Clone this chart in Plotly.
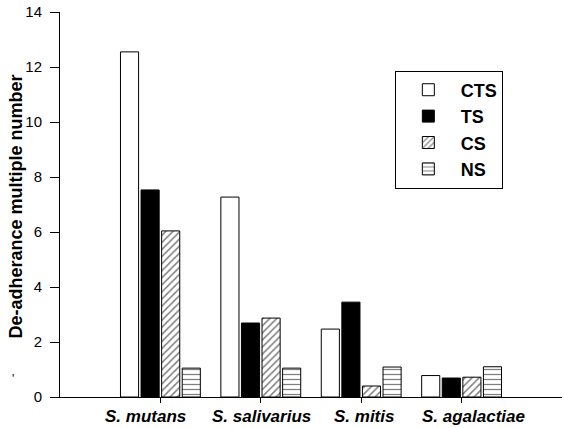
import plotly.graph_objects as go

categories = ["S. mutans", "S. salivarius", "S. mitis", "S. agalactiae"]
cts = [12.55, 7.27, 2.47, 0.78]
ts = [7.53, 2.69, 3.45, 0.69]
cs = [6.04, 2.87, 0.40, 0.72]
ns = [1.05, 1.05, 1.09, 1.10]
y_title = "De-adherance multiple number"
# small horizontal offsets of the category labels as typeset in the original
label_shift = [-15, 1, 3, 12]

series = [
    ("CTS", cts, dict(color="white", line=dict(color="black", width=1))),
    ("TS", ts, dict(color="black", line=dict(color="black", width=1))),
    ("CS", cs, dict(color="white", line=dict(color="black", width=1),
                    pattern=dict(shape="/", fgcolor="black", bgcolor="white", size=5, solidity=0.3))),
    ("NS", ns, dict(color="white", line=dict(color="black", width=1),
                    pattern=dict(shape="-", fgcolor="black", bgcolor="white", size=5, solidity=0.25))),
]

fig = go.Figure()
for i, (name, vals, marker) in enumerate(series):
    fig.add_trace(go.Bar(x=categories, y=vals, name="<b>%s</b>" % name, marker=marker,
                         legendgroup=name))

font = "Liberation Sans, Arial, sans-serif"

for c, dx in zip(categories, label_shift):
    fig.add_annotation(x=c, xref="x", y=0, yref="paper", yanchor="top", yshift=-8,
                       xshift=dx, showarrow=False,
                       text="<b><i>%s</i></b>" % c, font=dict(size=17, family=font))

fig.add_annotation(x=0, xref="paper", y=0.5, yref="paper", xshift=-45, yshift=-2,
                   textangle=-90, showarrow=False, xanchor="center", yanchor="middle",
                   text="<b>%s</b>" % y_title, font=dict(size=18, family=font))
fig.add_annotation(x=0, xref="paper", y=0, yref="paper", xshift=-50, yshift=9,
                   showarrow=False, text="'", font=dict(size=12, family=font))

fig.update_layout(
    width=564, height=428,
    margin=dict(l=60, r=2, t=12, b=31),
    paper_bgcolor="white", plot_bgcolor="white",
    barmode="group", bargap=0.18, bargroupgap=0.12,
    font=dict(family=font, color="black", size=13),
    showlegend=True,
    legend=dict(x=0.667, y=0.848, xanchor="left", yanchor="top",
                bordercolor="black", borderwidth=1, bgcolor="white",
                font=dict(size=18, family=font),
                itemwidth=55, tracegroupgap=8.5,
                traceorder="normal"),
    xaxis=dict(type="category", range=[-1, 4], showline=True, linecolor="black", linewidth=1,
               ticks="outside", ticklen=5, tickcolor="black", showgrid=False,
               automargin=False, showticklabels=False),
    yaxis=dict(range=[0, 14], dtick=2, showline=True, linecolor="black", linewidth=1,
               ticks="outside", ticklen=9, tickcolor="black", showgrid=False,
               zeroline=False, automargin=False, ticklabelstandoff=5,
               tickfont=dict(size=15, family=font)),
)

fig.write_html("out.html", config={"displayModeBar": False},
               post_script="document.body.style.margin='0';document.body.style.padding='0';")
